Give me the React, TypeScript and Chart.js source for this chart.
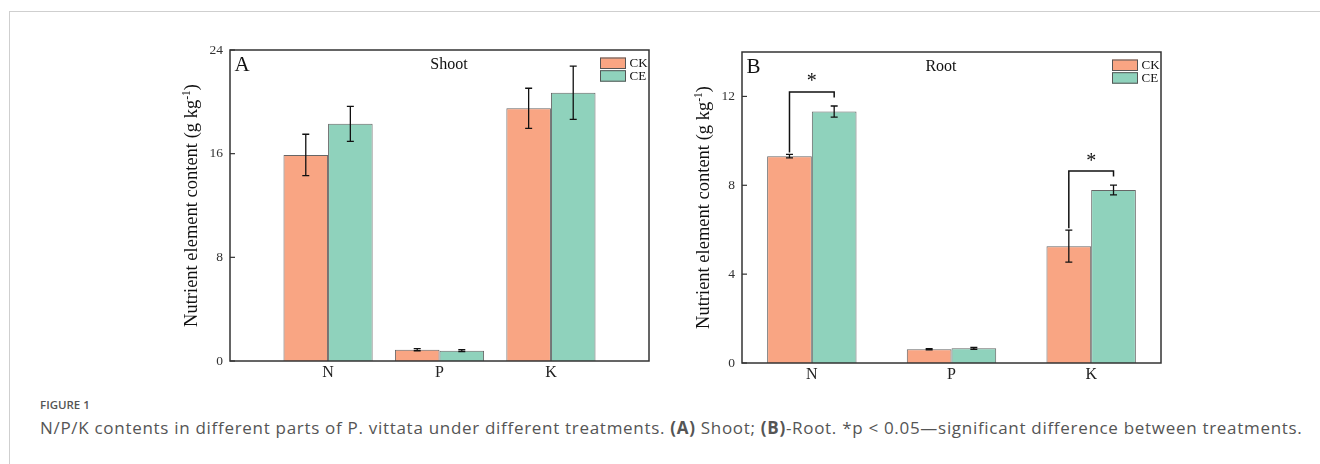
import React, { useEffect, useRef } from 'react';
import { Chart, registerables } from 'chart.js';

Chart.register(...registerables);

// ---------- data ----------
const categories = ['N', 'P', 'K'];
const seriesNames = ['CK', 'CE'];

const shootCK = [15.9, 0.87, 19.5];
const shootCKErr = [1.6, 0.08, 1.55];
const shootCE = [18.3, 0.8, 20.7];
const shootCEErr = [1.35, 0.07, 2.05];

const rootCK = [9.31, 0.62, 5.26];
const rootCKErr = [0.08, 0.03, 0.72];
const rootCE = [11.32, 0.66, 7.79];
const rootCEErr = [0.25, 0.04, 0.22];
const rootSignificance = ['*', '', '*'];

const shootTicks = [0, 8, 16, 24];
const rootTicks = [0, 4, 8, 12];

const yTitleMain = 'Nutrient element content (g kg';
const yTitleSup = '-1';
const yTitleEnd = ')';

const captionLabel = 'FIGURE 1';

// ---------- style ----------
const CK_COLOR = 'rgb(249,165,131)';
const CE_COLOR = 'rgb(143,210,188)';
const BAR_EDGE = '#666';
const FRAME = '#333';
const SERIF = '"Liberation Serif", "Times New Roman", serif';

type PanelCfg = {
  letter: string;
  title: string;
  titleOffset: number;
  ck: number[];
  ckErr: number[];
  ce: number[];
  ceErr: number[];
  yMax: number;
  yTicks: number[];
  linearX: boolean;
  sig?: string[];
};

function makeChart(canvas: HTMLCanvasElement, cfg: PanelCfg) {
  const colors = [CK_COLOR, CE_COLOR];
  const values = [cfg.ck, cfg.ce];
  const errs = [cfg.ckErr, cfg.ceErr];

  const datasets = seriesNames.map((name, k) => ({
    label: name,
    data: cfg.linearX
      ? values[k].map((v, i) => ({ x: i + 1, y: v }))
      : values[k],
    backgroundColor: colors[k],
    borderColor: BAR_EDGE,
    borderWidth: 1,
    borderSkipped: 'bottom',
    errors: errs[k],
    categoryPercentage: cfg.linearX ? 0.8 : 0.64,
    barPercentage: 1,
  }));

  const xScale: any = cfg.linearX
    ? {
        type: 'linear',
        min: 0.12,
        max: 3.88,
        offset: false,
        afterBuildTicks: (s: any) => {
          s.ticks = categories.map((_, i) => ({ value: i + 1 }));
        },
        ticks: {
          callback: (v: any) => categories[Math.round(v) - 1] ?? '',
          font: { family: SERIF, size: 16 },
          color: '#222',
          padding: 2,
          maxRotation: 0,
          autoSkip: false,
        },
      }
    : {
        type: 'category',
        offset: true,
        ticks: {
          font: { family: SERIF, size: 16 },
          color: '#222',
          padding: 2,
          maxRotation: 0,
          autoSkip: false,
        },
      };
  xScale.grid = { display: false, drawTicks: false, offset: !cfg.linearX };
  xScale.border = { display: false };
  xScale.afterFit = (s: any) => {
    s.height = 19;
  };

  const plugin = {
    id: 'decor',
    afterDatasetsDraw(chart: any) {
      const ctx = chart.ctx as CanvasRenderingContext2D;
      const ca = chart.chartArea;
      const y = chart.scales.y;
      ctx.save();

      // error bars
      ctx.strokeStyle = '#111';
      ctx.lineWidth = 1.3;
      chart.data.datasets.forEach((ds: any, k: number) => {
        const meta = chart.getDatasetMeta(k);
        meta.data.forEach((el: any, j: number) => {
          const v = values[k][j];
          const e = ds.errors[j];
          const yt = y.getPixelForValue(v + e);
          const yb = y.getPixelForValue(v - e);
          ctx.beginPath();
          ctx.moveTo(el.x, yt);
          ctx.lineTo(el.x, yb);
          ctx.moveTo(el.x - 3.5, yt);
          ctx.lineTo(el.x + 3.5, yt);
          ctx.moveTo(el.x - 3.5, yb);
          ctx.lineTo(el.x + 3.5, yb);
          ctx.stroke();
        });
      });

      // significance brackets
      if (cfg.sig) {
        const m0 = chart.getDatasetMeta(0);
        const m1 = chart.getDatasetMeta(1);
        cfg.sig.forEach((s, j) => {
          if (!s) return;
          const x0 = m0.data[j].x;
          const x1 = m1.data[j].x;
          const t0 = y.getPixelForValue(cfg.ck[j] + cfg.ckErr[j]);
          const t1 = y.getPixelForValue(cfg.ce[j] + cfg.ceErr[j]);
          const top = Math.min(t0, t1) - 14;
          ctx.strokeStyle = '#111';
          ctx.lineWidth = 1.5;
          ctx.beginPath();
          ctx.moveTo(x0, t0 - 2);
          ctx.lineTo(x0, top);
          ctx.lineTo(x1, top);
          ctx.lineTo(x1, top + 5.5);
          ctx.stroke();
          ctx.fillStyle = '#111';
          ctx.font = `20px ${SERIF}`;
          ctx.textAlign = 'center';
          ctx.textBaseline = 'alphabetic';
          ctx.fillText(s, (x0 + x1) / 2, top - 15 + 10.5);
        });
      }

      // frame
      ctx.strokeStyle = FRAME;
      ctx.lineWidth = 1.5;
      ctx.strokeRect(ca.left, ca.top, ca.right - ca.left, ca.bottom - ca.top);

      // inward y ticks
      ctx.lineWidth = 1.2;
      y.ticks.forEach((t: any) => {
        const py = y.getPixelForValue(t.value);
        ctx.beginPath();
        ctx.moveTo(ca.left, py);
        ctx.lineTo(ca.left + 5, py);
        ctx.stroke();
      });

      // panel letter and title
      ctx.fillStyle = '#111';
      ctx.textBaseline = 'middle';
      ctx.textAlign = 'left';
      ctx.font = `21px ${SERIF}`;
      ctx.fillText(cfg.letter, ca.left + 4.5, ca.top + 15);
      ctx.textAlign = 'center';
      ctx.font = `16px ${SERIF}`;
      ctx.fillText(cfg.title, ca.left + cfg.titleOffset, ca.top + 15);

      // legend
      seriesNames.forEach((name, k) => {
        const bx = ca.right - 49;
        const by = ca.top + 7.5 + k * 12.7;
        ctx.fillStyle = colors[k];
        ctx.fillRect(bx, by, 26, 11.5);
        ctx.strokeStyle = '#555';
        ctx.lineWidth = 1;
        ctx.strokeRect(bx + 0.5, by + 0.5, 25, 10.5);
        ctx.fillStyle = '#111';
        ctx.textAlign = 'left';
        ctx.textBaseline = 'middle';
        ctx.font = `13px ${SERIF}`;
        ctx.fillText(name, ca.right - 19.5, by + 6);
      });

      // y title with superscript
      ctx.save();
      const cx = ca.left - 39;
      const cy = (ca.top + ca.bottom) / 2;
      ctx.translate(cx, cy);
      ctx.rotate(-Math.PI / 2);
      const fMain = `18.5px ${SERIF}`;
      const fSup = `11.5px ${SERIF}`;
      ctx.font = fMain;
      const w1 = ctx.measureText(yTitleMain).width;
      const w3 = ctx.measureText(yTitleEnd).width;
      ctx.font = fSup;
      const w2 = ctx.measureText(yTitleSup).width;
      const total = w1 + w2 + w3;
      let xs = -total / 2;
      ctx.fillStyle = '#111';
      ctx.textAlign = 'left';
      ctx.textBaseline = 'alphabetic';
      const base = 6;
      ctx.font = fMain;
      ctx.fillText(yTitleMain, xs, base);
      xs += w1;
      ctx.font = fSup;
      ctx.fillText(yTitleSup, xs, base - 7.5);
      xs += w2;
      ctx.font = fMain;
      ctx.fillText(yTitleEnd, xs, base);
      ctx.restore();

      ctx.restore();
    },
  };

  return new Chart(canvas, {
    type: 'bar',
    data: {
      labels: categories,
      datasets: datasets as any,
    },
    options: {
      responsive: false,
      animation: false,
      devicePixelRatio: 1,
      layout: { padding: { left: 0, top: 20, right: 11, bottom: 0 } },
      plugins: {
        legend: { display: false },
        tooltip: { enabled: false },
        title: { display: false },
      },
      scales: {
        x: xScale,
        y: {
          min: 0,
          max: cfg.yMax,
          afterBuildTicks: (s: any) => {
            s.ticks = cfg.yTicks.map((v) => ({ value: v }));
          },
          afterFit: (s: any) => {
            s.width = 70;
          },
          grid: { display: false, drawTicks: false },
          border: { display: false },
          ticks: {
            font: { family: SERIF, size: 13.5 },
            color: '#333',
            padding: 7,
          },
        },
      },
    } as any,
    plugins: [plugin as any],
  });
}

function Panel({ cfg, left, top }: { cfg: PanelCfg; left: number; top: number }) {
  const ref = useRef<HTMLCanvasElement | null>(null);
  useEffect(() => {
    if (!ref.current) return;
    const chart = makeChart(ref.current, cfg);
    return () => chart.destroy();
  }, [cfg]);
  return (
    <canvas
      ref={ref}
      width={500}
      height={350}
      style={{ position: 'absolute', left, top, width: 500, height: 350 }}
    />
  );
}

const shootCfg: PanelCfg = {
  letter: 'A',
  title: 'Shoot',
  titleOffset: 219,
  ck: shootCK,
  ckErr: shootCKErr,
  ce: shootCE,
  ceErr: shootCEErr,
  yMax: 24,
  yTicks: shootTicks,
  linearX: true,
};

const rootCfg: PanelCfg = {
  letter: 'B',
  title: 'Root',
  titleOffset: 199,
  ck: rootCK,
  ckErr: rootCKErr,
  ce: rootCE,
  ceErr: rootCEErr,
  yMax: 14,
  yTicks: rootTicks,
  linearX: false,
  sig: rootSignificance,
};

export default function App() {
  return (
    <div style={{ position: 'absolute', left: 0, top: 0, width: 1320, height: 464, overflow: 'hidden', background: '#fff' }}>
      <div
        style={{
          position: 'absolute',
          left: 9,
          top: 11,
          width: 1311,
          height: 453,
          boxSizing: 'border-box',
          borderLeft: '1px solid #cfcfcf',
          borderTop: '1px solid #cfcfcf',
        }}
      />
      <Panel cfg={shootCfg} left={160} top={30} />
      <Panel cfg={rootCfg} left={672} top={32} />
      <div
        style={{
          position: 'absolute',
          left: 40,
          top: 397,
          fontFamily: '"Open Sans", sans-serif',
          fontSize: 11.5,
          fontWeight: 600,
          lineHeight: '15px',
          color: '#555',
          whiteSpace: 'nowrap',
        }}
      >
        {captionLabel}
      </div>
      <div
        style={{
          position: 'absolute',
          left: 40,
          top: 417,
          fontFamily: '"Open Sans", sans-serif',
          fontSize: 17,
          letterSpacing: '0.7px',
          lineHeight: '22px',
          color: '#555',
          whiteSpace: 'nowrap',
        }}
      >
        N/P/K contents in different parts of P. vittata under different treatments. <b>(A)</b> Shoot; <b>(B)</b>-Root. *p &lt; 0.05—significant difference between treatments.
      </div>
    </div>
  );
}
